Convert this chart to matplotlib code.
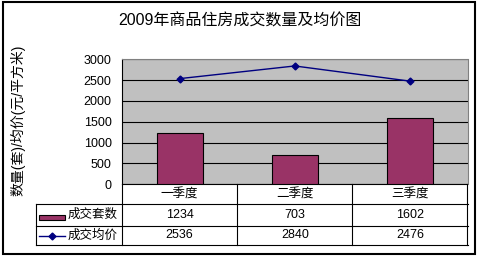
import matplotlib
matplotlib.use("Agg")
import matplotlib.pyplot as plt
from matplotlib.patches import Rectangle
from matplotlib.lines import Line2D
from matplotlib.transforms import blended_transform_factory

plt.rcParams['font.family'] = ['Liberation Sans', 'Noto Sans CJK SC']

# data
quarters = ['一季度', '二季度', '三季度']
deals = [1234, 703, 1602]
prices = [2536, 2840, 2476]
series_names = ['成交套数', '成交均价']
title = '2009年商品住房成交数量及均价图'
ylabel = '数量(套)/均价(元/平方米)'

BAR_COLOR = '#993366'
LINE_COLOR = '#000080'

W, H = 480, 259
fig = plt.figure(figsize=(W / 100, H / 100), dpi=100)


def fx(px):
    return px / W


def fy(py):
    return 1 - py / H


left, right, top, bottom = 122, 467.5, 59.3, 184.3
ax = fig.add_axes([fx(left), fy(bottom), fx(right) - fx(left), fy(top) - fy(bottom)])
ax.set_facecolor('#c0c0c0')

x = list(range(len(quarters)))
ax.bar(x, deals, width=0.4, color=BAR_COLOR, edgecolor='black', linewidth=0.8, zorder=3)
ax.plot(x, prices, color=LINE_COLOR, lw=1, marker='D', ms=3.5, zorder=4)

ax.set_xlim(-0.5, len(quarters) - 0.5)
ax.set_ylim(0, 3000)
ax.set_yticks(range(0, 3001, 500))
ax.yaxis.grid(True, color='black', lw=0.8, zorder=1)
ax.tick_params(axis='y', length=0, pad=7.5, labelsize=9)
ax.set_xticks(x, quarters)
ax.tick_params(axis='x', length=0, pad=3, labelsize=9)

for side in ['left', 'bottom']:
    ax.spines[side].set_color('black')
    ax.spines[side].set_linewidth(0.8)
for side in ['top', 'right']:
    ax.spines[side].set_color('#808080')
    ax.spines[side].set_linewidth(0.8)

# data table below the plot
row_lines = [204.3, 225.5, 245]
table_left = 35.7
for py in row_lines:
    fig.add_artist(Line2D([fx(table_left), fx(right)], [fy(py), fy(py)],
                          color='black', lw=0.8))
fig.add_artist(Line2D([fx(table_left), fx(table_left)], [fy(row_lines[0]), fy(row_lines[-1])],
                      color='black', lw=0.8))

trans = blended_transform_factory(ax.transData, fig.transFigure)
for sep in [i - 0.5 for i in range(len(quarters) + 1)]:
    fig.add_artist(Line2D([sep, sep], [fy(bottom), fy(row_lines[-1])],
                          color='black', lw=0.8, transform=trans))

row_centers = [(row_lines[0] + row_lines[1]) / 2, (row_lines[1] + row_lines[2]) / 2]
for row, values in zip(row_centers, [deals, prices]):
    for i, v in enumerate(values):
        fig.text(0, 0, str(v), ha='center', va='center', fontsize=9,
                 transform=trans).set_position((i, fy(row)))

# legend keys inside the table
fig.add_artist(Rectangle((fx(39.3), fy(220.3)), fx(65) - fx(39.3), fy(215) - fy(220.3),
                         facecolor=BAR_COLOR, edgecolor='black', lw=0.8))
fig.add_artist(Line2D([fx(39.3), fx(65)], [fy(236), fy(236)], color=LINE_COLOR, lw=1))
fig.add_artist(Line2D([fx(52)], [fy(236)], color=LINE_COLOR, marker='D', ms=3.5))
for row, name in zip(row_centers, series_names):
    fig.text(fx(68), fy(row), name, ha='left', va='center', fontsize=9)

# title, axis label, outer frame
fig.text(0.5, fy(21), title, ha='center', va='center', fontsize=11.5)
fig.text(fx(18), fy(120), ylabel, ha='center', va='center', rotation=90, fontsize=10)
fig.add_artist(Rectangle((fx(2.5), fy(254)), fx(475.3) - fx(2.5), fy(2.5) - fy(254),
                         fill=False, edgecolor='black', lw=1.5))

fig.savefig('out.png', dpi=100)
